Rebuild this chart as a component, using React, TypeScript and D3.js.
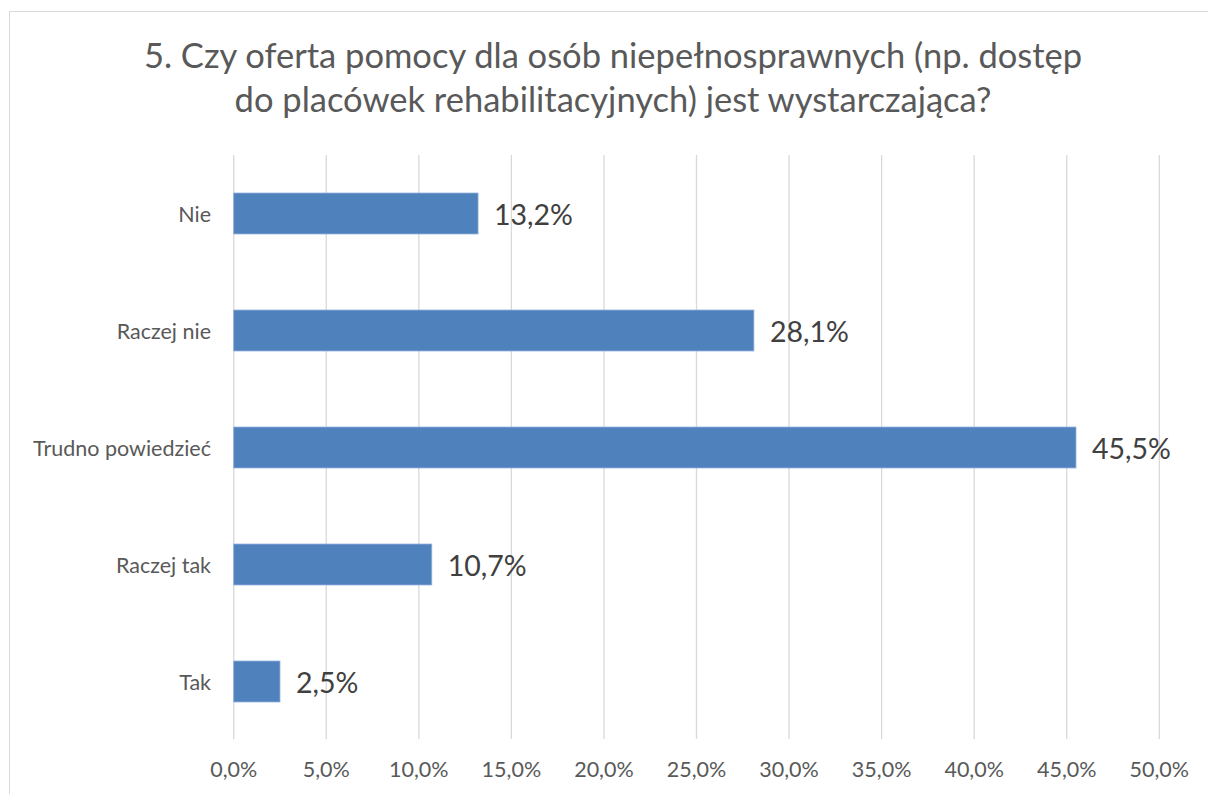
import React from "react";
import * as d3 from "d3";

const titleLines = [
  "5. Czy oferta pomocy dla osób niepełnosprawnych (np. dostęp",
  "do placówek rehabilitacyjnych) jest wystarczająca?",
];
const categories = ["Nie", "Raczej nie", "Trudno powiedzieć", "Raczej tak", "Tak"];
const values = [13.2, 28.1, 45.5, 10.7, 2.5];
const xTicks = [0, 5, 10, 15, 20, 25, 30, 35, 40, 45, 50];

const W = 1208;
const H = 794;
const FONT = "Lato, 'Open Sans', sans-serif";

const fmt = (v: number) => v.toFixed(1).replace(".", ",") + "%";

export default function App() {
  const x = d3.scaleLinear().domain([0, 50]).range([233.7, 1159.3]);
  const y = d3.scaleBand<string>().domain(categories).range([155, 740]).paddingInner(0.65).paddingOuter(0.325);
  return (
    <svg width={W} height={H} style={{ position: "absolute", left: 0, top: 0 }}>
      <rect x={0} y={0} width={W} height={H} fill="#fff" />
      <rect x={9.5} y={11.5} width={W + 20} height={H + 20} fill="#fff" stroke="#d9d9d9" strokeWidth={1} />
      <g fontFamily={FONT} fill="#595959" fontSize={34.5} textAnchor="middle">
        {titleLines.map((t, i) => (
          <text key={i} x={613} y={68 + i * 43.5}>{t}</text>
        ))}
      </g>
      {xTicks.map((t) => (
        <line key={t} x1={x(t)} x2={x(t)} y1={155} y2={739} stroke="#d9d9d9" strokeWidth={1.3} />
      ))}
      {categories.map((c, i) => (
        <g key={c}>
          <rect x={x(0)} y={y(c)!} width={x(values[i]) - x(0)} height={y.bandwidth()} fill="#4F81BD" stroke="#8fb0dc" strokeWidth={0.8} />
          <text x={x(values[i]) + 16} y={y(c)! + y.bandwidth() / 2 + 11} fontFamily={FONT} fontSize={28.5} fill="#404040">{fmt(values[i])}</text>
          <text x={211} y={y(c)! + y.bandwidth() / 2 + 8} fontFamily={FONT} fontSize={21.5} fill="#595959" textAnchor="end">{c}</text>
        </g>
      ))}
      {xTicks.map((t) => (
        <text key={t} x={x(t)} y={777} fontFamily={FONT} fontSize={21.5} fill="#595959" textAnchor="middle">{fmt(t)}</text>
      ))}
    </svg>
  );
}
